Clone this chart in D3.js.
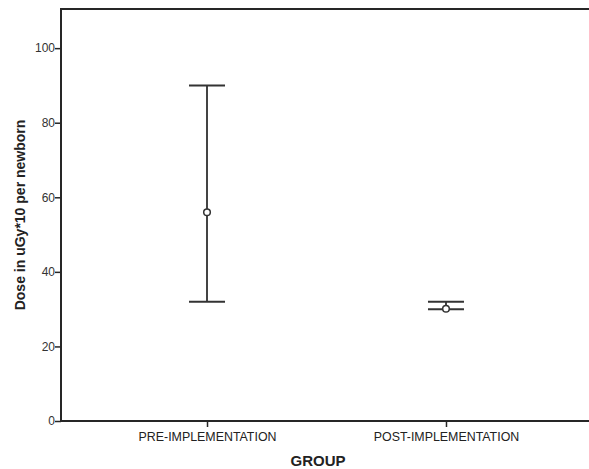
<!DOCTYPE html>
<html>
<head>
<meta charset="utf-8">
<script src="https://cdn.jsdelivr.net/npm/d3@7"></script>
<style>
  body { margin: 0; background: #fff; overflow: hidden; }
  svg { display: block; }
  text { font-family: Arial, "Liberation Sans", sans-serif; }
</style>
</head>
<body>
<svg width="589" height="469"></svg>
<script>
// groups and their error bar values
var groups = ['PRE-IMPLEMENTATION', 'POST-IMPLEMENTATION'];
var means = [56, 30.1];
var lower = [32, 30];
var upper = [90, 32];
var yTicks = [0, 20, 40, 60, 80, 100];

var svg = d3.select('svg');

// plot box: left 61, top 9, bottom 421, right runs off the page
var x = d3.scalePoint().domain(groups).range([61, 592]).padding(0.611);
var y = d3.scaleLinear().domain([0, 110.5]).range([421, 9]);

var ink = '#262626';

// frame (left, top, bottom; the right side is off the page)
var frame = [[61, 9, 61, 421], [60, 9, 600, 9], [60, 421, 600, 421]];
svg.selectAll('.frame').data(frame).enter().append('line')
  .attr('class', 'frame')
  .attr('x1', function(d) { return d[0]; })
  .attr('y1', function(d) { return d[1]; })
  .attr('x2', function(d) { return d[2]; })
  .attr('y2', function(d) { return d[3]; })
  .attr('stroke', ink)
  .attr('stroke-width', 2);

// y axis
var yAxis = svg.append('g')
  .attr('transform', 'translate(61,0)')
  .call(d3.axisLeft(y).tickValues(yTicks).tickSize(6).tickSizeOuter(0));
yAxis.select('.domain').remove();
yAxis.selectAll('line').attr('stroke', ink).attr('stroke-width', 1.5);
yAxis.selectAll('text')
  .attr('fill', '#333')
  .style('font-size', '12px')
  .attr('x', -6);

// x axis
var xAxis = svg.append('g')
  .attr('transform', 'translate(0,421)')
  .call(d3.axisBottom(x).tickSize(6).tickSizeOuter(0));
xAxis.select('.domain').remove();
xAxis.selectAll('line').attr('stroke', ink).attr('stroke-width', 1.5);
xAxis.selectAll('text')
  .attr('fill', '#222')
  .attr('y', 11)
  .style('font-size', '12.4px');

// axis titles
svg.append('text')
  .attr('x', 318).attr('y', 466)
  .attr('text-anchor', 'middle')
  .style('font-size', '15px')
  .style('font-weight', 'bold')
  .attr('fill', '#222')
  .text('GROUP');

svg.append('text')
  .attr('transform', 'translate(25,215) rotate(-90)')
  .attr('text-anchor', 'middle')
  .style('font-size', '14px')
  .style('font-weight', 'bold')
  .attr('fill', '#222')
  .text('Dose in uGy*10 per newborn');

// error bars
var data = groups.map(function(g, i) {
  return { g: g, mean: means[i], lo: lower[i], hi: upper[i] };
});

var bars = svg.selectAll('.bar').data(data).enter().append('g').attr('class', 'bar');

bars.append('line')
  .attr('x1', function(d) { return x(d.g); })
  .attr('x2', function(d) { return x(d.g); })
  .attr('y1', function(d) { return y(d.lo); })
  .attr('y2', function(d) { return y(d.hi); })
  .attr('stroke', '#444').attr('stroke-width', 2);

[ 'lo', 'hi' ].forEach(function(k) {
  bars.append('line')
    .attr('x1', function(d) { return x(d.g) - 18; })
    .attr('x2', function(d) { return x(d.g) + 18; })
    .attr('y1', function(d) { return y(d[k]); })
    .attr('y2', function(d) { return y(d[k]); })
    .attr('stroke', '#333').attr('stroke-width', 2);
});

bars.append('circle')
  .attr('cx', function(d) { return x(d.g); })
  .attr('cy', function(d) { return y(d.mean); })
  .attr('r', 3.3)
  .attr('fill', '#fff')
  .attr('stroke', '#333')
  .attr('stroke-width', 1.5);
</script>
</body>
</html>
